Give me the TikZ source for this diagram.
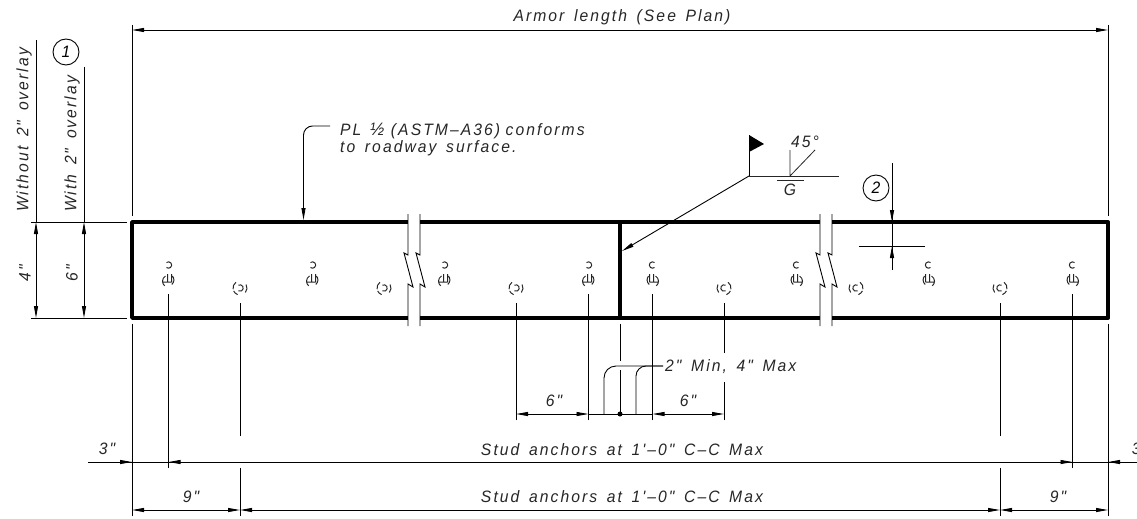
\documentclass[tikz,border=0pt]{standalone}
\usepackage{fontspec}
\usetikzlibrary{arrows.meta}
\newfontfamily\cadfont[LetterSpace=12.5,WordSpace=1.5,FakeStretch=0.95]{Liberation Sans}
\tikzset{
  x=1pt,y=-1pt,
  line/.style={line width=0.9pt,black},
  thin line/.style={line width=0.8pt,black!85},
  plate/.style={line width=3.8pt,black},
  dim/.style={line,{Stealth[length=12pt,width=4pt,inset=0pt]}-{Stealth[length=12pt,width=4pt,inset=0pt]}},
  tip end/.style={line,-{Stealth[length=12pt,width=4pt,inset=0pt]}},
  lab/.style={font=\cadfont\itshape\fontsize{16.5}{17}\selectfont,text=black!85,inner sep=0pt},
  bubble/.style={circle,draw,line width=0.9pt,minimum size=26pt,inner sep=0pt,font=\cadfont\itshape\fontsize{16.5}{17}\selectfont},
  studa/.pic={
    \draw[line width=1pt,black!85]
      (0,-15) ++(-130:3.2) arc[start angle=-130,end angle=130,radius=3.2]
      (-6,2) -- (3,2) (-1,-6) -- (-1,2) (3,-6) -- (3,2)
      (-3,-4) arc[start angle=-120,end angle=-230,radius=6]
      (4,-4) arc[start angle=-40,end angle=50,radius=6];
  },
  studb/.pic={
    \draw[line width=1pt,black!85]
      (-120:3.2) arc[start angle=-120,end angle=120,radius=3.2]
      (-125:7) arc[start angle=-125,end angle=-190,radius=7]
      (155:7) arc[start angle=155,end angle=110,radius=7]
      (-30:7) arc[start angle=-30,end angle=40,radius=7];
  }
}
\begin{document}
\begin{tikzpicture}
\useasboundingbox (0,0) rectangle (1137,519);
\clip (0,0) rectangle (1137,519);

% plate
\coordinate (tl) at (132,222); \coordinate (tr) at (1108,222);
\coordinate (bl) at (132,318); \coordinate (br) at (1108,318);
\draw[plate,line join=round] (408,222) -- (tl) -- (bl) -- (408,318);
\draw[plate] (420,222) -- (820,222) (420,318) -- (820,318);
\draw[plate,line join=round] (832,222) -- (tr) -- (br) -- (832,318);
\draw[plate] (620,222) -- (620,318);

% breaks
\foreach \x in {408,420,820,832}
  \draw[line] (\x,214) -- (\x,255) -- (\x-4,253) -- (\x+5,287) -- (\x,284) -- (\x,326);

% studs
\foreach \x in {168.5,312.5,444.5,588.5}
  \pic at (\x,280) {studa};
\foreach \x in {652.5,796.5,928.5,1072.5}
  \pic[xscale=-1] at (\x,280) {studa};
\foreach \x in {240,384,516}
  \pic at (\x,288) {studb};
\foreach \x in {724,856,1000}
  \pic[xscale=-1] at (\x,288) {studb};

% overall dimension
\draw[line] (132,25) -- (132,216) (1108,25) -- (1108,216);
\draw[line] (132,324) -- (132,516) (1108,324) -- (1108,516);
\draw[dim] (132,30) -- (1108,30);
\node[lab] (armor) at (622,17) {Armor length (See Plan)};

% left dimensions
\draw[line] (31,222) -- (127,222) (31,318) -- (127,318);
\draw[dim] (36,222) -- (36,318);
\draw[dim] (84,222) -- (84,318);
\draw[line] (36,40) -- (36,222) (84,67) -- (84,222);
\node[lab,rotate=90,anchor=west] (without) at (24,212) {Without 2" overlay};
\node[lab,rotate=90,anchor=west] (with) at (72,212) {With 2" overlay};
\node[lab,rotate=90] (four) at (25,273) {4"};
\node[lab,rotate=90] (six) at (72,273) {6"};
\node[bubble] (c1) at (66,52) {1};

% plate note
\node[lab,anchor=west] (note1) at (340,131) {PL\kern-1pt{} {\fontsize{18}{17}\selectfont ½}\kern-3pt{} (ASTM–A36)\kern-4pt{} conforms};
\node[lab,anchor=west] (note2) at (340,148) {to roadway surface.};
\coordinate (noteend) at (330,126);
\coordinate (notetip) at (303.5,220);
\draw[tip end,rounded corners=9pt] (noteend) -- (303.5,126) -- (notetip);

% weld symbol
\coordinate (weld) at (749,176);
\coordinate (weldtip) at (622,251);
\draw[tip end] (weld) -- (weldtip);
\draw[thin line] (weld) -- (839,176);
\draw[line] (weld) -- (749,135);
\fill[black] (749,135) -- (764,144) -- (749,152) -- cycle;
\draw[thin line] (790,176) -- (790,150) (790,176) -- (815,150);
\draw[thin line] (777,180) -- (804,180);
\node[lab] (g) at (790,190) {G};
\node[lab] (deg) at (805,142) {45°};

% detail 2
\node[bubble] (c2) at (876,188) {2};
\draw[line] (892,163) -- (892,270);
\draw[line] (859,246) -- (925,246);
\draw[tip end] (892,208) -- (892,222);
\draw[tip end] (892,260) -- (892,246);

% lower witness lines
\draw[line] (168.5,294) -- (168.5,468);
\draw[line] (240,303) -- (240,436) (240,468) -- (240,516);
\draw[line] (1000,303) -- (1000,436) (1000,468) -- (1000,516);
\draw[line] (1072.5,294) -- (1072.5,468);
\draw[line] (516,303) -- (516,420);
\draw[line] (588.5,294) -- (588.5,420);
\draw[line] (620,324) -- (620,361) (620,370) -- (620,414);
\draw[line] (652.5,294) -- (652.5,420);
\draw[line] (724,303) -- (724,353) (724,382) -- (724,420);

% weld gap dimension
\coordinate (a1) at (516,414); \coordinate (a2) at (588.5,414);
\coordinate (a3) at (652.5,414); \coordinate (a4) at (724,414);
\draw[dim] (a1) -- (a2);
\draw[line] (a2) -- (a3);
\draw[dim] (a3) -- (a4);
\fill[black] (620,414) circle (2.5pt);
\coordinate (lead) at (663,366);
\draw[line,rounded corners=12pt] (lead) -- (604,366) -- (604,414);
\draw[line,rounded corners=10pt] (lead) -- (636,366) -- (636,414);
\node[lab,anchor=west] (minmax) at (665,367) {2" Min, 4" Max};
\node[lab] (six1) at (554,401) {6"};
\node[lab] (six2) at (688,401) {6"};

% stud spacing 1
\draw[line] (88,462) -- (1137,462);
\draw[tip end] (120,462) -- (132,462);
\draw[tip end] (181,462) -- (168.5,462);
\draw[tip end] (1060,462) -- (1072.5,462);
\draw[tip end] (1120,462) -- (1108,462);
\node[lab] (three1) at (107,449) {3"};
\node[lab] (three2) at (1140,449) {3"};
\node[lab] (stud1) at (622,450) {Stud anchors at 1'–0" C–C Max};

% stud spacing 2
\draw[dim] (132,510) -- (240,510);
\draw[dim] (240,510) -- (1000,510);
\draw[dim] (1000,510) -- (1108,510);
\node[lab] (nine1) at (191,497) {9"};
\node[lab] (nine2) at (1058,497) {9"};
\node[lab] (stud2) at (622,497) {Stud anchors at 1'–0" C–C Max};
\end{tikzpicture}
\end{document}
